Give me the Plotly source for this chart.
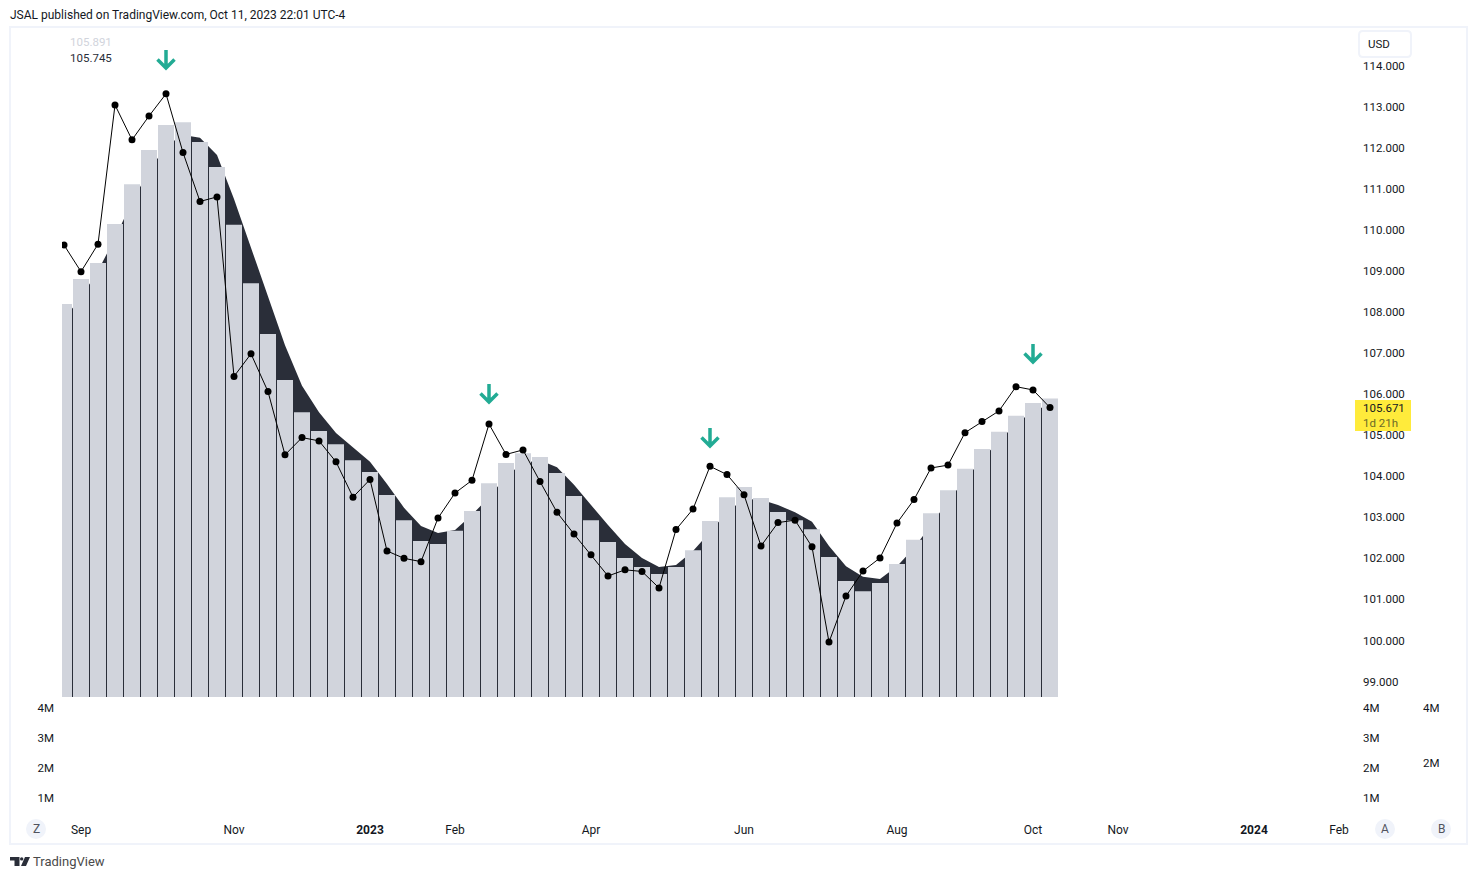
import plotly.graph_objects as go

W, H = 1477, 879

idx = list(range(59))
close_line = [109.63,108.98,109.65,113.04,112.19,112.77,113.31,111.88,110.69,110.80,
              106.43,106.98,106.06,104.52,104.94,104.86,104.35,103.49,103.92,102.18,
              102.00,101.92,102.98,103.59,103.90,105.27,104.53,104.64,103.87,103.12,
              102.59,102.09,101.57,101.72,101.68,101.28,102.70,103.20,104.24,104.04,
              103.55,102.30,102.87,102.93,102.28,99.96,101.08,101.69,102.01,102.86,
              103.43,104.20,104.27,105.06,105.33,105.59,106.18,106.10,105.671]
bar_vals = [108.19,108.80,109.19,110.14,111.11,111.94,112.55,112.62,112.14,111.53,
            110.12,108.70,107.46,106.34,105.56,105.10,104.78,104.39,104.10,103.54,
            102.93,102.42,102.35,102.67,103.15,103.83,104.32,104.56,104.47,104.08,
            103.52,102.93,102.40,102.01,101.79,101.62,101.79,102.20,102.91,103.49,
            103.74,103.47,103.13,102.93,102.71,102.03,101.45,101.20,101.40,101.86,
            102.45,103.10,103.66,104.18,104.66,105.08,105.47,105.78,105.891]
area_vals = [107.83,108.36,109.00,109.80,110.68,111.43,112.04,112.31,112.24,111.82,
             110.75,109.58,108.41,107.19,106.20,105.56,105.05,104.69,104.35,103.81,
             103.23,102.79,102.62,102.69,103.06,103.49,104.00,104.32,104.39,104.22,
             103.79,103.30,102.81,102.35,102.01,101.79,101.84,102.18,102.64,103.13,
             103.44,103.43,103.30,103.12,102.89,102.30,101.81,101.55,101.50,101.81,
             102.25,102.81,103.40,103.91,104.42,104.86,105.27,105.59,105.745]
arrow_idx = [6, 25, 38, 57]
arrow_vals = [114.134, 106.0, 104.93, 106.975]
price_ticks = list(range(99, 115))
price_labels = [f"{v}.000" for v in price_ticks]
time_ticks = [1, 10, 18, 23, 31, 40, 49, 57, 62, 70, 75]
time_labels = ["Sep", "Nov", "<b>2023</b>", "Feb", "Apr", "Jun", "Aug", "Oct", "Nov", "<b>2024</b>", "Feb"]
vol_ticks = [1e6, 2e6, 3e6, 4e6]
vol_ticks_b = [2e6, 4e6]

FONT = "Roboto"
INK = "#131722"
DARK = "#2a2e39"
LIGHT = "#d1d4dc"
FRAME = "#f0f3fa"
TEAL = "#22ab94"

def px(x): return x / W
def py(y): return 1 - y / H

L, R, TOP, MID, BOT = 62, 1362, 28, 697, 820

fig = go.Figure()
fig.add_trace(go.Scatter(x=idx, y=area_vals, mode="lines", line=dict(width=0, color=DARK),
                         fill="tozeroy", fillcolor=DARK, hoverinfo="skip", showlegend=False))
fig.add_trace(go.Bar(x=idx, y=bar_vals, yaxis="y5", width=16/17, marker=dict(color=LIGHT, line=dict(width=0)),
                     hoverinfo="skip", showlegend=False))
fig.add_trace(go.Scatter(x=idx, y=close_line, yaxis="y5", mode="lines+markers",
                         line=dict(color="#000000", width=1),
                         marker=dict(color="#000000", size=7), hoverinfo="skip", showlegend=False))
for ya in ("y2", "y3", "y4"):
    fig.add_trace(go.Scatter(x=[None], y=[None], yaxis=ya, showlegend=False, hoverinfo="skip"))

shapes = []
for i, v in zip(arrow_idx, arrow_vals):
    shapes.append(dict(type="path", xref="x", yref="y", xsizemode="pixel", ysizemode="pixel",
                       xanchor=i, yanchor=v, path="M0,10 L0,-8 M-8.5,0.5 L0,-8 L8.5,0.5",
                       line=dict(color=TEAL, width=3.5), layer="above"))
shapes.append(dict(type="rect", xref="paper", yref="paper", x0=px(10), x1=px(1467), y0=py(844), y1=py(27),
                   line=dict(color=FRAME, width=2), layer="below"))
shapes.append(dict(type="rect", xref="paper", yref="paper", x0=px(1355), x1=px(1411), y0=py(431), y1=py(400),
                   fillcolor="#ffeb3b", line=dict(width=0), layer="above"))
for cx in (36, 1385, 1441):
    shapes.append(dict(type="circle", xref="paper", yref="paper", x0=px(cx-10), x1=px(cx+10),
                       y0=py(839), y1=py(819), fillcolor=FRAME, line=dict(width=0), layer="below"))
# USD box
x0, x1, y0, y1, r = 1359, 1411, 31, 57, 4
box = (f"M{px(x0+r)},{py(y0)} L{px(x1-r)},{py(y0)} Q{px(x1)},{py(y0)} {px(x1)},{py(y0+r)} "
       f"L{px(x1)},{py(y1-r)} Q{px(x1)},{py(y1)} {px(x1-r)},{py(y1)} L{px(x0+r)},{py(y1)} "
       f"Q{px(x0)},{py(y1)} {px(x0)},{py(y1-r)} L{px(x0)},{py(y0+r)} Q{px(x0)},{py(y0)} {px(x0+r)},{py(y0)} Z")
shapes.append(dict(type="path", xref="paper", yref="paper", path=box, fillcolor="#ffffff",
                   line=dict(color=FRAME, width=2), layer="above"))
# TradingView logo
logo = (f"M{px(10)},{py(857)} L{px(19.5)},{py(857)} L{px(19.5)},{py(866)} L{px(14.5)},{py(866)} "
        f"L{px(14.5)},{py(860.5)} L{px(10)},{py(860.5)} Z "
        f"M{px(25)},{py(857)} L{px(30)},{py(857)} L{px(26)},{py(866)} L{px(21)},{py(866)} Z")
shapes.append(dict(type="path", xref="paper", yref="paper", path=logo, fillcolor=DARK,
                   line=dict(width=0), layer="above"))
shapes.append(dict(type="circle", xref="paper", yref="paper", x0=px(20), x1=px(23.4),
                   y0=py(860.6), y1=py(857.2), fillcolor=DARK, line=dict(width=0), layer="above"))

def note(text, x, y, color=INK, size=11.5, anchor="left"):
    return dict(text=text, x=px(x), y=py(y), xref="paper", yref="paper", showarrow=False,
                xanchor=anchor, yanchor="middle", font=dict(family=FONT, size=size, color=color),
                borderpad=0, borderwidth=0)

annotations = [
    note("JSAL published on TradingView.com, Oct 11, 2023 22:01 UTC-4", 10, 15, size=12),
    note("105.891", 70, 42, color=LIGHT),
    note("105.745", 70, 58.5, color=DARK),
    note("USD", 1368, 44),
    note("105.671", 1363, 408),
    note("1d 21h", 1363, 423, color="#6b6a28"),
    note("Z", 36, 828.5, color="#50535e", size=12, anchor="center"),
    note("A", 1385, 828.5, color="#50535e", size=12, anchor="center"),
    note("B", 1441, 828.5, color="#50535e", size=12, anchor="center"),
    note("TradingView", 33, 861, color="#4a4a4a", size=13),
]

tick_font = dict(family=FONT, size=11.5, color=INK)
time_font = dict(family=FONT, size=12, color=INK)
vol_range = [(827.5-BOT)/30*1e6, (827.5-MID)/30*1e6]
vol_range_b = [(817.5-BOT)/27.5*1e6, (817.5-MID)/27.5*1e6]
price_range = [114-(MID-65.5)/41.07, 114+(65.5-TOP)/41.07]

fig.update_layout(
    width=W, height=H, autosize=False,
    margin=dict(l=0, r=0, t=0, b=0),
    paper_bgcolor="#ffffff", plot_bgcolor="#ffffff",
    showlegend=False, barmode="overlay",
    shapes=shapes, annotations=annotations,
    xaxis=dict(domain=[px(L), px(R)], range=[(L-64)/17, (R-64)/17], anchor="y2",
               tickmode="array", tickvals=time_ticks, ticktext=time_labels,
               showgrid=False, zeroline=False, showline=False, ticks="", tickfont=time_font,
               ticklabelstandoff=1),
    yaxis=dict(domain=[py(MID), py(TOP)], range=price_range,
               side="right", anchor="x", tickmode="array", tickvals=price_ticks, ticktext=price_labels,
               showgrid=False, zeroline=False, showline=False, ticks="", tickfont=tick_font),
    yaxis5=dict(overlaying="y", range=price_range, side="right", anchor="x", showticklabels=False,
                showgrid=False, zeroline=False, showline=False, ticks=""),
    yaxis2=dict(domain=[py(BOT), py(MID)], range=vol_range, side="left", anchor="x",
                tickmode="array", tickvals=vol_ticks, tickformat="~s",
                showgrid=False, zeroline=False, showline=False, ticks="", tickfont=tick_font,
                ticklabelstandoff=7),
    yaxis3=dict(overlaying="y2", range=vol_range, side="right", anchor="x",
                tickmode="array", tickvals=vol_ticks, tickformat="~s",
                showgrid=False, zeroline=False, showline=False, ticks="", tickfont=tick_font),
    yaxis4=dict(overlaying="y2", range=vol_range_b, side="right", anchor="free", position=px(1422),
                tickmode="array", tickvals=vol_ticks_b, tickformat="~s",
                showgrid=False, zeroline=False, showline=False, ticks="", tickfont=tick_font),
)

fig.write_html("out.html", config=dict(displayModeBar=False),
               post_script='document.body.style.margin="0";')
